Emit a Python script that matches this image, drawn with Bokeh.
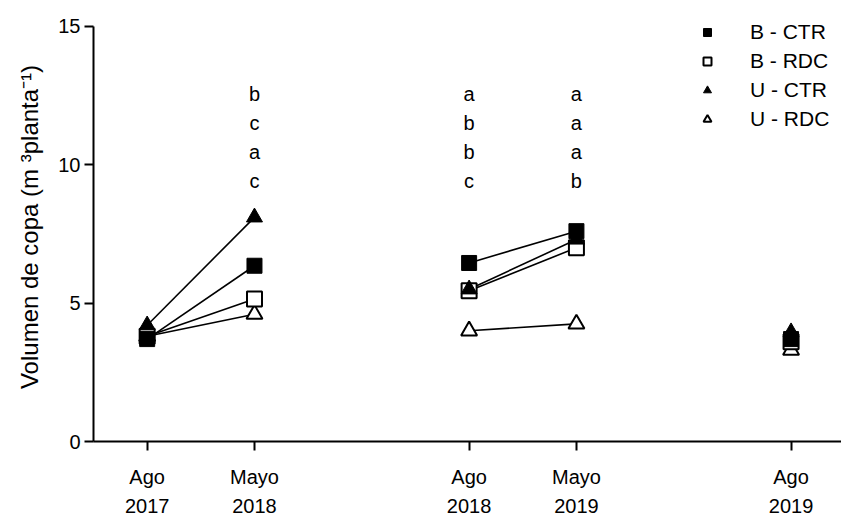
from bokeh.plotting import figure
from bokeh.models import Range1d, FixedTicker, Legend, LegendItem, ColumnDataSource
from bokeh.core.properties import value
from bokeh.embed import file_html
from bokeh.resources import INLINE

# ---- data ----
x_pos = [1, 2, 4, 5, 7]
x_labels = ["Ago\n2017", "Mayo\n2018", "Ago\n2018", "Mayo\n2019", "Ago\n2019"]
b_ctr = [3.7, 6.35, 6.45, 7.6, 3.7]
b_rdc = [3.8, 5.15, 5.45, 7.0, 3.6]
u_ctr = [4.2, 8.1, 5.5, 7.3, 3.95]
u_rdc = [3.8, 4.6, 4.0, 4.25, 3.3]
seasons = [[0, 1], [2, 3]]

letter_x = [2, 2, 2, 2, 4, 4, 4, 4, 5, 5, 5, 5]
letter_y = [12.57, 11.52, 10.47, 9.42] * 3
letters = ["b", "c", "a", "c", "a", "b", "b", "c", "a", "a", "a", "b"]

FONT = "Liberation Sans"

p = figure(width=841, height=525, output_backend="svg", toolbar_location=None,
           x_range=Range1d(0.5, 7.47), y_range=Range1d(0, 15.5),
           min_border_left=93, min_border_right=0, min_border_top=12, min_border_bottom=84)
p.outline_line_color = None
p.xgrid.visible = False
p.ygrid.visible = False
p.background_fill_color = "white"

# lines
for s in (b_ctr, b_rdc, u_ctr, u_rdc):
    for idx in seasons:
        p.line([x_pos[i] for i in idx], [s[i] for i in idx], line_color="black", line_width=1.6)

r_urdc = p.scatter(x_pos, u_rdc, marker="triangle", size=16, fill_color="white",
                   line_color="black", line_width=2)
r_brdc = p.scatter(x_pos, b_rdc, marker="square", size=15, fill_color="white",
                   line_color="black", line_width=2)
r_uctr = p.scatter(x_pos, u_ctr, marker="triangle", size=16, fill_color="black",
                   line_color="black", line_width=1)
r_bctr = p.scatter(x_pos, b_ctr, marker="square", size=15, fill_color="black",
                   line_color="black", line_width=1)

# significance letters
src = ColumnDataSource(dict(x=letter_x, y=letter_y, t=letters))
p.text(x="x", y="y", text="t", source=src, text_font=value(FONT), text_font_size="20px",
       text_align="center", text_baseline="middle", text_color="black")

# axes
p.xaxis.ticker = FixedTicker(ticks=x_pos)
p.xaxis.major_label_overrides = {x: l for x, l in zip(x_pos, x_labels)}
p.xaxis.bounds = (0.5, 7.47)
p.yaxis.ticker = FixedTicker(ticks=[0, 5, 10, 15])
p.yaxis.bounds = (0, 15)
for ax in (p.xaxis[0], p.yaxis[0]):
    ax.axis_line_width = 2
    ax.major_tick_line_width = 2
    ax.major_tick_out = 9
    ax.major_tick_in = 0
    ax.minor_tick_line_color = None
    ax.major_label_text_font = FONT
    ax.major_label_text_font_size = "20px"
    ax.major_label_text_color = "black"
    ax.axis_line_color = "black"
    ax.major_tick_line_color = "black"
p.xaxis.major_label_standoff = 15
p.xaxis.major_label_text_line_height = 1.35
p.yaxis.major_label_standoff = 4
p.yaxis.axis_label = "Volumen de copa (m ³planta⁻¹)"
p.yaxis.axis_label_text_font = FONT
p.yaxis.axis_label_text_font_size = "24px"
p.yaxis.axis_label_text_font_style = "normal"
p.yaxis.axis_label_text_color = "black"
p.yaxis.axis_label_standoff = 12

legend = Legend(items=[
    LegendItem(label="B - CTR", renderers=[r_bctr]),
    LegendItem(label="B - RDC", renderers=[r_brdc]),
    LegendItem(label="U - CTR", renderers=[r_uctr]),
    LegendItem(label="U - RDC", renderers=[r_urdc]),
], location=(604, 310))
legend.border_line_color = None
legend.background_fill_alpha = 0
legend.padding = 0
legend.margin = 0
legend.spacing = 5
legend.glyph_width = 20
legend.glyph_height = 20
legend.label_height = 20
legend.label_standoff = 33
legend.label_text_font = FONT
legend.label_text_font_size = "21px"
legend.label_text_color = "black"
p.add_layout(legend)

open("out.html", "w").write(file_html(p, INLINE))
